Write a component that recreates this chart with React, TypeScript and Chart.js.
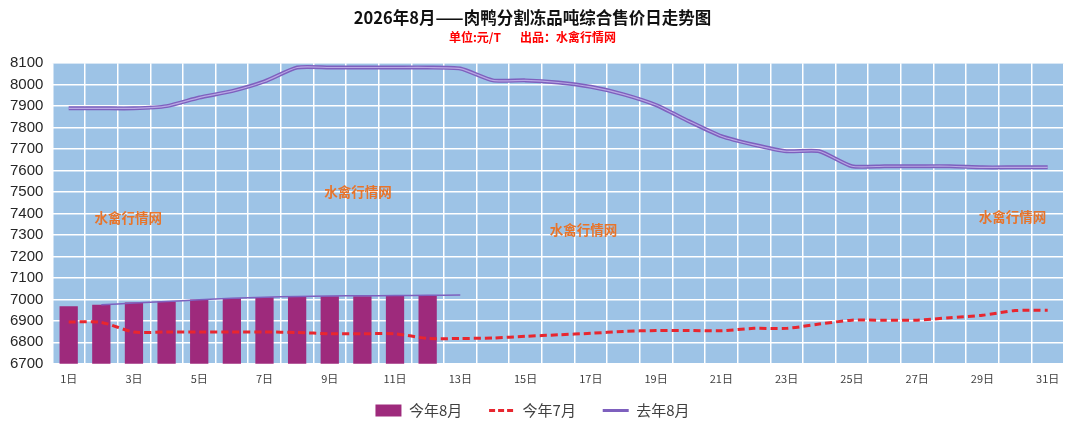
import { Chart, registerables } from "chart.js";
import React, { useEffect, useRef } from "react";

Chart.register(...registerables);

const days = Array.from({ length: 31 }, (_, i) => `${i + 1}日`);

// 今年8月 (bars, only first 12 days so far)
const thisAug = [6968, 6975, 6985, 6990, 7000, 7005, 7010, 7015, 7015, 7015, 7018, 7018];

// 今年7月
const thisJul = [
  6895, 6893, 6848, 6848, 6848, 6848, 6848, 6846, 6840, 6840, 6840, 6818, 6818, 6820, 6828, 6835,
  6842, 6851, 6855, 6855, 6854, 6865, 6865, 6885, 6903, 6903, 6903, 6915, 6926, 6948, 6949,
];

// 去年8月
const lastAug = [
  7890, 7890, 7890, 7900, 7940, 7970, 8015, 8080, 8080, 8080, 8080, 8080, 8075, 8020, 8020, 8010,
  7990, 7955, 7905, 7830, 7760, 7720, 7690, 7690, 7620, 7620, 7620, 7620, 7615, 7615, 7615,
];

// thin line running along the bar tops (day 2 .. day 13)
const barTopLine = [
  null, 6975, 6983, 6990, 6998, 7005, 7010, 7014, 7016, 7017, 7018, 7019, 7020,
];

const watermarks = [
  [0.075, 0.513],
  [0.302, 0.428],
  [0.525, 0.553],
  [0.949, 0.51],
];

const FONT = '"Liberation Sans", "Noto Sans CJK SC", sans-serif';
const CJK = '"Noto Sans CJK SC", "Liberation Sans", sans-serif';

const plotBg = {
  id: "plotBg",
  beforeDraw(chart: Chart) {
    const { ctx, chartArea } = chart;
    ctx.save();
    ctx.fillStyle = "#9DC3E6";
    ctx.fillRect(chartArea.left, chartArea.top, chartArea.width, chartArea.height);
    ctx.restore();
  },
  beforeDatasetsDraw(chart: Chart) {
    const { ctx, chartArea } = chart;
    ctx.save();
    ctx.font = `bold 13.5px ${CJK}`;
    ctx.fillStyle = "#E8742A";
    ctx.textAlign = "center";
    ctx.textBaseline = "middle";
    for (const [fx, fy] of watermarks) {
      ctx.fillText(
        "水禽行情网",
        chartArea.left + fx * chartArea.width,
        chartArea.top + fy * chartArea.height
      );
    }
    ctx.restore();
  },
};

const App = () => {
  const canvasRef = useRef<HTMLCanvasElement>(null);

  useEffect(() => {
    document.body.style.margin = "0";
    if (!canvasRef.current) return;
    const chart = new Chart(canvasRef.current, {
      type: "bar",
      data: {
        labels: days,
        datasets: [
          {
            type: "bar",
            label: "今年8月",
            data: thisAug,
            backgroundColor: "#9E2A7C",
            borderWidth: 0,
            barPercentage: 0.56,
            categoryPercentage: 1,
            pointStyle: "rect",
            order: 5,
          },
          {
            type: "line",
            label: "今年7月",
            data: thisJul,
            borderColor: "#E8262F",
            backgroundColor: "#E8262F",
            borderWidth: 3,
            borderDash: [7, 4],
            pointRadius: 0,
            tension: 0.25,
            pointStyle: "line",
            order: 1,
          },
          {
            type: "line",
            label: "去年8月",
            data: lastAug,
            borderColor: "#7E60BE",
            backgroundColor: "#7E60BE",
            borderWidth: 4,
            pointRadius: 0,
            tension: 0.2,
            pointStyle: "line",
            order: 3,
          },
          {
            type: "line",
            label: "_inner",
            data: lastAug,
            borderColor: "#B9A8E4",
            borderWidth: 1.2,
            pointRadius: 0,
            tension: 0.2,
            order: 2,
          },
          {
            type: "line",
            label: "_bartop",
            data: barTopLine,
            borderColor: "#7E60BE",
            borderWidth: 1.5,
            pointRadius: 0,
            tension: 0.2,
            order: 4,
          },
        ],
      },
      options: {
        animation: false,
        responsive: true,
        maintainAspectRatio: false,
        layout: { padding: { left: 1, right: 16, bottom: 5 } },
        scales: {
          x: {
            offset: true,
            grid: { color: "#FFFFFF", lineWidth: 1.5, offset: true, drawTicks: false },
            border: { display: false },
            ticks: {
              autoSkip: false,
              maxRotation: 0,
              padding: 8,
              color: "#404040",
              font: { family: CJK, size: 11 },
              callback: (_v, i) => (i % 2 === 0 ? days[i] : ""),
            },
          },
          y: {
            min: 6700,
            max: 8100,
            grid: { color: "#FFFFFF", lineWidth: 1.5, drawTicks: false },
            border: { display: false },
            ticks: {
              stepSize: 100,
              padding: 9,
              color: "#262626",
              font: { family: FONT, size: 15 },
              callback: (v) => String(v),
            },
          },
        },
        plugins: {
          title: {
            display: true,
            text: "2026年8月——肉鸭分割冻品吨综合售价日走势图",
            color: "#111111",
            font: { family: CJK, size: 16.5, weight: "bold" },
            padding: { top: 8, bottom: 2 },
          },
          subtitle: {
            display: true,
            text: "单位:元/T       出品：水禽行情网",
            color: "#FF0000",
            font: { family: CJK, size: 12, weight: "bold" },
            padding: { bottom: 19 },
          },
          legend: {
            position: "bottom",
            labels: {
              usePointStyle: true,
              pointStyleWidth: 26,
              boxHeight: 12,
              padding: 10,
              color: "#404040",
              font: { family: CJK, size: 15 },
              filter: (item) => !item.text.startsWith("_"),
              sort: (a, b) => a.datasetIndex - b.datasetIndex,
              generateLabels: (c) => {
                const items = Chart.defaults.plugins.legend.labels.generateLabels(c);
                return items.map((it) => {
                  if (it.datasetIndex === 0) return { ...it, text: it.text + "     " };
                  if (it.datasetIndex === 1)
                    return { ...it, text: it.text + "     ", lineDash: [6, 3], lineWidth: 3 };
                  if (it.datasetIndex === 2) return { ...it, lineWidth: 3 };
                  return it;
                });
              },
            },
          },
          tooltip: { enabled: false },
        },
      },
      plugins: [plotBg],
    });
    return () => chart.destroy();
  }, []);

  return (
    <div style={{ width: 1080, height: 433, background: "#FFFFFF" }}>
      <canvas ref={canvasRef}></canvas>
    </div>
  );
};

export default App;
